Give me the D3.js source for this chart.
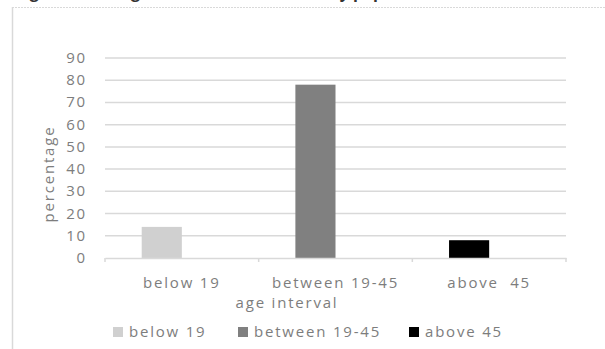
<!DOCTYPE html>
<html>
<head>
<meta charset="utf-8">
<script src="https://cdn.jsdelivr.net/npm/d3@7"></script>
<style>
  body { margin: 0; background: #fff; }
  text { font-family: "Open Sans", sans-serif; }
  .lbl { fill: #7d7d7d; font-size: 15px; letter-spacing: 1.8px; white-space: pre; }
</style>
</head>
<body>
<div class="chart"></div>
<script>
// Chart data
var categories = ["below 19", "between 19-45", "above  45"];
var seriesNames = ["below 19", "between 19-45", "above 45"];
var percentages = [14, 78, 8];
var barColors = ["#d0d0d0", "#808080", "#000000"];
var yTicks = [0, 10, 20, 30, 40, 50, 60, 70, 80, 90];

var svgWidth = 605;
var svgHeight = 349;

var plot = { left: 105, right: 566, top: 58, bottom: 258 };

var svg = d3.select(".chart")
  .append("svg")
  .attr("width", svgWidth)
  .attr("height", svgHeight);

// Figure caption, cut off at the top edge (only the descenders show)
svg.append("text")
  .attr("x", 16)
  .attr("y", -2.5)
  .style("font-size", "16px")
  .style("font-weight", "bold")
  .style("fill", "#333")
  .text("Figure 1: The age distribution of the study population");

// Chart frame
svg.append("line")
  .attr("x1", 12.5).attr("x2", 12.5)
  .attr("y1", 7).attr("y2", svgHeight)
  .attr("stroke", "#d9d9d9").attr("stroke-width", 1.5);
svg.append("line")
  .attr("x1", 12).attr("x2", svgWidth)
  .attr("y1", 7.5).attr("y2", 7.5)
  .attr("stroke", "#d9d9d9").attr("stroke-width", 1)
  .attr("stroke-dasharray", "2,1");

// Scales
var xScale = d3.scaleBand()
  .domain(categories)
  .range([plot.left, plot.right])
  .padding(0);

// two slots per category, only the first one holds a bar
var slotScale = d3.scaleBand()
  .domain(["bar", "empty"])
  .range([0, xScale.bandwidth()])
  .paddingInner(0)
  .paddingOuter(0.915);

var yScale = d3.scaleLinear()
  .domain([0, 90])
  .range([plot.bottom, plot.top]);

// Gridlines
svg.append("g")
  .selectAll("line")
  .data(yTicks.slice(1))
  .enter()
  .append("line")
  .attr("x1", plot.left)
  .attr("x2", plot.right)
  .attr("y1", function(d) { return yScale(d); })
  .attr("y2", function(d) { return yScale(d); })
  .attr("stroke", "#d9d9d9")
  .attr("stroke-width", 1.5);

// Y tick labels
svg.append("g")
  .selectAll("text")
  .data(yTicks)
  .enter()
  .append("text")
  .attr("class", "lbl")
  .attr("x", 87)
  .attr("y", function(d) { return yScale(d) + 5; })
  .attr("text-anchor", "end")
  .text(function(d) { return d; });

// Bars
svg.append("g")
  .selectAll("rect")
  .data(percentages)
  .enter()
  .append("rect")
  .attr("x", function(d, i) { return xScale(categories[i]) + slotScale("bar"); })
  .attr("y", function(d) { return yScale(d); })
  .attr("width", slotScale.bandwidth())
  .attr("height", function(d) { return yScale(0) - yScale(d); })
  .attr("fill", function(d, i) { return barColors[i]; });

// X axis line with tick marks between categories
var xAxis = d3.axisBottom(xScale).tickSize(0).tickFormat("");
svg.append("g")
  .attr("transform", "translate(0," + plot.bottom + ")")
  .call(xAxis)
  .call(function(g) { g.select(".domain").attr("stroke", "#d9d9d9").attr("stroke-width", 1.5); });

var boundaries = categories.map(function(c) { return xScale(c); }).concat([plot.right]);
svg.append("g")
  .selectAll("line")
  .data(boundaries)
  .enter()
  .append("line")
  .attr("x1", function(d) { return d; })
  .attr("x2", function(d) { return d; })
  .attr("y1", plot.bottom)
  .attr("y2", plot.bottom + 4)
  .attr("stroke", "#d9d9d9")
  .attr("stroke-width", 1.5);

// Category labels
svg.append("g")
  .selectAll("text")
  .data(categories)
  .enter()
  .append("text")
  .attr("class", "lbl")
  .attr("x", function(d) { return xScale(d) + xScale.bandwidth() / 2; })
  .attr("y", 288)
  .attr("text-anchor", "middle")
  .text(function(d) { return d; });

// Axis titles
svg.append("text")
  .attr("class", "lbl")
  .attr("x", 287)
  .attr("y", 308)
  .attr("text-anchor", "middle")
  .text("age interval");

svg.append("text")
  .attr("class", "lbl")
  .attr("transform", "translate(54,174) rotate(-90)")
  .attr("text-anchor", "middle")
  .text("percentage");

// Legend
var legendX = [113, 238, 409];
var legend = svg.append("g")
  .selectAll("g")
  .data(seriesNames)
  .enter()
  .append("g")
  .attr("transform", function(d, i) { return "translate(" + legendX[i] + ",327)"; });

legend.append("rect")
  .attr("width", 10)
  .attr("height", 10)
  .attr("fill", function(d, i) { return barColors[i]; });

legend.append("text")
  .attr("class", "lbl")
  .attr("x", 16)
  .attr("y", 10)
  .text(function(d) { return d; });
</script>
</body>
</html>
